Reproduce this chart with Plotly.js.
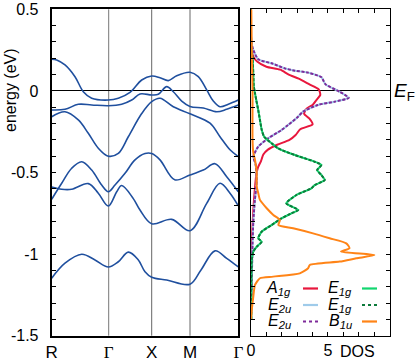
<!DOCTYPE html>
<html><head><meta charset="utf-8">
<script src="https://cdn.plot.ly/plotly-3.0.1.min.js"></script>
<style>html,body{margin:0;padding:0;background:#fff}#chart{width:415px;height:363px}</style>
</head><body><div id="chart"></div>
<script>
// ---- k-path (band structure) ----
const kTicks = [0, 57, 100, 138.3, 186.6];
const kLabels = ['R', 'Γ', 'X', 'M', 'Γ'];

// ---- bands: k, energy (eV) ----
const band1K = [0, 5, 13.3, 23.3, 31.6, 40, 56.6, 66.6, 78.3, 90, 100, 108.3, 116.6, 125, 138.3, 146.6, 155, 161.6, 168.3, 176.6, 186.6];
const band1E = [0.194, 0.19, 0.159, 0.087, -0.005, -0.045, -0.056, -0.045, -0.009, 0.067, 0.091, 0.081, 0.063, 0.093, 0.114, 0.087, 0.006, -0.062, -0.097, -0.082, -0.056];
const band2K = [0, 13.3, 26.6, 40, 56.6, 70, 80, 88.3, 100, 106.6, 115, 121.6, 130, 138.3, 151.6, 165, 175, 186.6];
const band2E = [-0.117, -0.113, -0.082, -0.086, -0.091, -0.082, -0.056, -0.019, -0.025, -0.021, 0.026, -0.005, -0.062, -0.095, -0.105, -0.128, -0.113, -0.087];
const band3K = [0, 13.3, 26.6, 36.6, 46.6, 56.6, 66.6, 76.6, 90, 100, 108.3, 121.6, 138.3, 158.3, 168.3, 178.3, 186.6];
const band3E = [-0.158, -0.128, -0.178, -0.260, -0.351, -0.400, -0.383, -0.281, -0.139, -0.066, -0.045, -0.097, -0.140, -0.198, -0.281, -0.361, -0.403];
const band4K = [0, 10, 20, 30, 40, 50, 56.6, 63.3, 73.3, 83.3, 93.3, 100, 108.3, 123, 138.3, 151.6, 163.3, 175, 186.6];
const band4E = [-0.664, -0.566, -0.474, -0.434, -0.485, -0.577, -0.618, -0.577, -0.505, -0.423, -0.384, -0.384, -0.423, -0.545, -0.515, -0.485, -0.446, -0.526, -0.618];
const band5K = [0, 10, 20, 36.6, 46.6, 56.6, 65, 70, 81.6, 88.3, 100, 120, 138.3, 155, 168.3, 178.3, 186.6];
const band5E = [-0.589, -0.603, -0.603, -0.568, -0.627, -0.705, -0.618, -0.580, -0.660, -0.730, -0.814, -0.787, -0.857, -0.689, -0.566, -0.627, -0.705];
const band6K = [0, 13.3, 30, 43.3, 56.6, 66.6, 76.6, 86.3, 93.3, 100, 115, 138.3, 149.3, 163.3, 175, 186.6];
const band6E = [-1.148, -1.056, -1.001, -1.036, -1.079, -1.047, -0.988, -1.033, -1.108, -1.142, -1.159, -1.184, -1.097, -0.980, -1.026, -1.079];

// ---- projected DOS: energy (eV), DOS ----
const dosA1gE = [0.5, 0.26, 0.21, 0.18, 0.148, 0.13, 0.10, 0.075, 0.04, 0.01, -0.025, -0.056, -0.086, -0.11, -0.14, -0.17, -0.205, -0.235, -0.27, -0.30, -0.33, -0.36, -0.39, -0.43, -0.47, -0.51, -0.60, -0.73, -0.91, -1.10, -1.40];
const dosA1gD = [0.0, 0.02, 0.15, 0.40, 1.0, 1.9, 2.45, 3.1, 3.8, 4.4, 4.5, 4.25, 4.0, 3.6, 3.45, 3.8, 4.0, 3.2, 2.9, 2.5, 1.7, 1.1, 0.8, 0.65, 0.45, 0.35, 0.25, 0.15, 0.06, 0.02, 0.0];
const dosE2uE = [0.5, 0.30, 0.251, 0.194, 0.169, 0.138, 0.124, 0.112, 0.083, 0.047, 0.036, -0.005, -0.042, -0.066, -0.086, -0.127, -0.158, -0.209, -0.240, -0.290, -0.342, -0.403, -0.45, -0.55, -0.67, -0.80, -0.94, -1.16, -1.40];
const dosE2uD = [0.0, 0.02, 0.15, 0.47, 1.34, 2.20, 2.85, 3.71, 4.58, 4.79, 4.90, 5.75, 6.35, 5.43, 4.35, 3.38, 3.06, 2.41, 1.98, 1.12, 0.47, 0.15, 0.30, 0.37, 0.25, 0.15, 0.10, 0.05, 0.0];
const dosE1gE = [0.5, 0.25, 0.20, 0.10, 0.03, -0.015, -0.06, -0.117, -0.178, -0.24, -0.28, -0.321, -0.352, -0.393, -0.413, -0.434, -0.454, -0.485, -0.515, -0.546, -0.577, -0.597, -0.638, -0.689, -0.730, -0.750, -0.781, -0.822, -0.863, -0.903, -0.924, -0.955, -0.985, -1.036, -1.40];
const dosE1gD = [0.0, 0.02, 0.10, 0.15, 0.18, 0.26, 0.35, 0.47, 0.58, 0.70, 0.85, 1.34, 1.76, 2.85, 3.49, 4.14, 4.57, 4.30, 4.57, 4.79, 4.14, 3.92, 2.95, 2.30, 3.07, 2.63, 1.98, 1.34, 0.69, 0.47, 0.69, 0.37, 0.15, 0.05, 0.02];
const dosB1uE = [0.5, 0.25, 0.0, -0.30, -0.38, -0.423, -0.503, -0.587, -0.626, -0.668, -0.719, -0.760, -0.791, -0.822, -0.842, -0.873, -0.903, -0.934, -0.964, -0.985, -1.006, -1.026, -1.046, -1.067, -1.087, -1.118, -1.138, -1.148, -1.189, -1.260, -1.342, -1.404];
const dosB1uD = [0.02, 0.05, 0.10, 0.10, 0.15, 0.26, 0.37, 0.37, 0.47, 0.58, 1.02, 1.45, 1.88, 1.78, 2.74, 4.03, 5.11, 6.19, 6.40, 5.85, 8.02, 6.84, 5.76, 3.82, 3.71, 3.17, 1.44, 0.58, 0.26, 0.15, 0.05, 0.0];

const energyTicks = [-1.5, -1, -0.5, 0, 0.5];
const energyLabels = ['-1.5', '-1', '-0.5', '0', '0.5'];
const dosTicks = [0, 5];
const dosLabels = ['0', '5'];

const seriesNames = ['<i>A<sub>1g</sub></i>', '<i>E<sub>2u</sub></i>', '<i>E<sub>2u</sub></i>', '<i>E<sub>1g</sub></i>', '<i>E<sub>1g</sub></i>', '<i>B<sub>1u</sub></i>'];
const seriesColors = ['#e8173d', '#9fcbea', '#7e2a9a', '#12d66f', '#0d7a3b', '#ff8417'];
const seriesDash = ['solid', 'solid', '3px,1.6px', 'solid', '3px,1.6px', 'solid'];
const seriesE = [dosA1gE, dosE2uE, dosE2uE, dosE1gE, dosE1gE, dosB1uE];
const seriesD = [dosA1gD, dosE2uD, dosE2uD, dosE1gD, dosE1gD, dosB1uD];

const W = 415, H = 363;
const fx = v => v / W;
const fy = v => 1 - v / H;
const FONT = 'Liberation Sans, Arial, sans-serif';
const bandColor = '#1f4f9e';

const traces = [];
[[band1K, band1E], [band2K, band2E], [band3K, band3E], [band4K, band4E], [band5K, band5E], [band6K, band6E]].forEach(b => {
  traces.push({x: b[0], y: b[1], xaxis: 'x', yaxis: 'y', mode: 'lines', showlegend: false, hoverinfo: 'skip',
    line: {color: bandColor, width: 1.6, shape: 'spline', smoothing: 1}});
});
for (let i = 0; i < seriesNames.length; i++) {
  traces.push({x: seriesD[i], y: seriesE[i], xaxis: 'x2', yaxis: 'y2', mode: 'lines', showlegend: false, hoverinfo: 'skip',
    line: {color: seriesColors[i], width: 2, dash: seriesDash[i], shape: 'spline', smoothing: 0.6}});
}

const shapes = [];
const vColors = ['#777777', '#666666', '#b3b3b3'];
const vWidths = [1, 1, 2];
for (let i = 1; i < kTicks.length - 1; i++) {
  shapes.push({type: 'line', xref: 'x', yref: 'paper', x0: kTicks[i], x1: kTicks[i], y0: fy(335.7), y1: fy(9.3),
    line: {color: vColors[i - 1], width: vWidths[i - 1]}, layer: 'below'});
}
const annotations = [];
const rows = [288.5, 305, 321.5];
for (let i = 0; i < seriesNames.length; i++) {
  const col = Math.floor(i / 3), row = i % 3;
  const textRight = col === 0 ? 293 : 354;
  const lx0 = col === 0 ? 303 : 362;
  annotations.push({xref: 'paper', yref: 'paper', x: fx(textRight), y: fy(rows[row]), xanchor: 'right', yanchor: 'middle',
    text: seriesNames[i], showarrow: false, font: {family: FONT, size: 16, color: '#000'}});
  shapes.push({type: 'line', xref: 'paper', yref: 'paper', x0: fx(lx0), x1: fx(lx0 + 15), y0: fy(rows[row]), y1: fy(rows[row]),
    line: {color: seriesColors[i], width: 2.2, dash: seriesDash[i] === 'solid' ? 'solid' : 'dot'}});
}
annotations.push({xref: 'paper', yref: 'paper', x: fx(10), y: fy(90), xanchor: 'center', yanchor: 'middle', textangle: -90,
  text: 'energy (eV)', showarrow: false, font: {family: FONT, size: 16, color: '#000'}});
annotations.push({xref: 'paper', yref: 'paper', x: fx(392), y: fy(92), xanchor: 'left', yanchor: 'middle',
  text: '<i>E</i><sub>F</sub>', showarrow: false, font: {family: FONT, size: 19, color: '#000'}});
annotations.push({xref: 'paper', yref: 'paper', x: fx(357), y: fy(351), xanchor: 'center', yanchor: 'middle',
  text: 'DOS', showarrow: false, font: {family: FONT, size: 16, color: '#000'}});

const yDomain = [fy(335.7), fy(9.3)];
const layout = {
  width: W, height: H,
  margin: {l: 0, r: 0, t: 0, b: 0},
  paper_bgcolor: '#fff', plot_bgcolor: '#fff',
  font: {family: FONT, size: 16, color: '#000'},
  showlegend: false,
  xaxis: {domain: [fx(51.7), fx(238.3)], range: [kTicks[0], kTicks[kTicks.length - 1]], tickmode: 'array',
    tickvals: kTicks, ticktext: kLabels.map(t => t === 'Γ' ? '<span style="font-family:Liberation Serif">Γ</span>' : t),
    ticks: '', showgrid: false, zeroline: false, showline: true, mirror: true, linecolor: '#000', linewidth: 2,
    tickfont: {family: FONT, size: 17}, fixedrange: true},
  yaxis: {domain: yDomain, range: [-1.5, 0.5], tickmode: 'array', tickvals: energyTicks, ticktext: energyLabels,
    ticks: 'inside', ticklen: 4, tickcolor: '#000', showgrid: false, zeroline: true, zerolinecolor: '#000', zerolinewidth: 1,
    showline: true, mirror: 'ticks', linecolor: '#000', linewidth: 2, tickfont: {family: FONT, size: 16}, ticklabelstandoff: 8,
    minor: {tickmode: 'linear', tick0: 0, dtick: 0.1, ticks: 'inside', ticklen: 4, tickcolor: '#000', showgrid: false}},
  xaxis2: {domain: [fx(251), fx(389.5)], anchor: 'y2', range: [0, 9], tickmode: 'array', tickvals: dosTicks, ticktext: dosLabels,
    ticks: 'inside', ticklen: 4, tickcolor: '#000', showgrid: false, zeroline: false, showline: true, mirror: 'ticks',
    linecolor: '#000', linewidth: 1.5, tickfont: {family: FONT, size: 16},
    minor: {tickmode: 'linear', tick0: 0, dtick: 1, ticks: 'inside', ticklen: 4, tickcolor: '#000', showgrid: false}},
  yaxis2: {domain: yDomain, anchor: 'x2', range: [-1.5, 0.5], tickmode: 'linear', tick0: 0, dtick: 0.1, showticklabels: false,
    ticks: 'inside', ticklen: 4, tickcolor: '#000', showgrid: false, zeroline: true, zerolinecolor: '#000', zerolinewidth: 1,
    showline: true, mirror: 'ticks', linecolor: '#000', linewidth: 1.5},
  shapes: shapes,
  annotations: annotations
};
Plotly.newPlot('chart', traces, layout, {staticPlot: true, displayModeBar: false});
</script></body></html>
